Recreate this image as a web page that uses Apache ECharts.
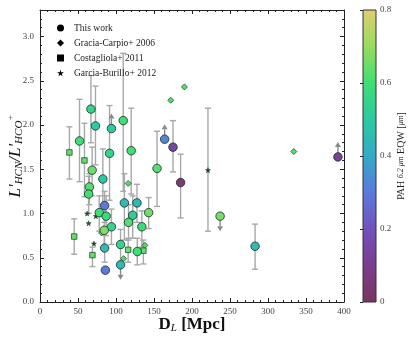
<!DOCTYPE html>
<html><head><meta charset="utf-8">
<script src="https://cdn.jsdelivr.net/npm/echarts@6/dist/echarts.min.js"></script>
<style>html,body{margin:0;padding:0;background:#fff}#c{width:415px;height:343px}</style>
</head><body><div id="c"></div>
<script>
// ---------------- DATA ----------------
// This work (circles)
const twD   = [67, 73, 52, 94, 91.5, 109.5, 120, 68.6, 82.7, 154, 164, 175, 185, 65, 64, 111, 127.6, 85, 78, 87, 122, 116.5, 143, 94, 134, 84.5, 106, 85, 128, 86, 106, 237, 283, 392];
const twR   = [2.18, 1.99, 1.82, 1.96, 1.68, 2.05, 1.71, 1.49, 1.39, 1.51, 1.84, 1.75, 1.35, 1.30, 1.22, 1.12, 1.12, 1.09, 1.01, 0.97, 0.98, 0.90, 1.01, 0.85, 0.85, 0.81, 0.65, 0.61, 0.57, 0.36, 0.42, 0.97, 0.63, 1.64];
const twPAH = [0.55, 0.50, 0.60, 0.50, 0.55, 0.60, 0.60, 0.65, 0.50, 0.62, 0.33, 0.15, 0.05, 0.63, 0.60, 0.45, 0.45, 0.30, 0.60, 0.58, 0.52, 0.62, 0.66, 0.55, 0.58, 0.68, 0.55, 0.45, 0.60, 0.30, 0.45, 0.66, 0.45, 0.12];
const twLo  = [1.80, 1.55, 1.36, null, 1.15, 1.25, 1.22, 1.20, 1.05, 1.08, null, 1.47, 0.95, 1.10, 1.00, 0.70, 0.90, 0.90, 0.80, 0.75, 0.72, 0.70, 0.83, 0.65, 0.62, 0.60, 0.45, 0.45, 0.42, null, null, null, 0.37, null];
const twHi  = [2.56, 2.44, 2.29, null, 2.22, 2.81, 2.19, 1.75, 1.73, 1.93, null, 2.05, 1.67, 1.45, 1.42, 1.45, 1.33, 1.25, 1.20, 1.20, 1.20, 1.10, 1.18, 1.05, 1.03, 1.00, 0.82, 0.78, 0.72, null, null, null, 0.88, null];
const twLim = [0, 0, 0, 1, 0, 0, 0, 0, 0, 0, 1, 0, 0, 0, 0, 0, 0, 0, 0, 0, 0, 0, 0, 0, 0, 0, 0, 0, 0, 0, -1, -1, 0, 1];
// Gracia-Carpio+ 2006 (diamonds)
const gcD   = [172, 190, 334, 116, 81, 110, 138];
const gcR   = [2.28, 2.43, 1.70, 1.34, 0.78, 0.49, 0.64];
const gcPAH = [0.62, 0.62, 0.62, 0.62, 0.62, 0.62, 0.62];
// Costagliola+ 2011 (squares)
const coD   = [38.7, 58.5, 45, 69, 116, 136];
const coR   = [1.69, 1.60, 0.74, 0.53, 0.59, 0.58];
const coPAH = [0.64, 0.64, 0.64, 0.64, 0.64, 0.64];
const coLo  = [1.39, 1.19, 0.54, 0.40, 0.45, 0.43];
const coHi  = [1.98, 2.02, 0.94, 0.62, 0.72, 0.70];
// Garcia-Burillo+ 2012 (stars)
const gbD   = [62, 64, 71, 73.5, 221];
const gbR   = [1.00, 0.89, 0.66, 0.97, 1.49];
const gbLo  = [null, null, null, null, 0.80];
const gbHi  = [null, null, null, null, 2.19];
// axes
const xMin = 0, xMax = 400, xStep = 50;
const yMin = 0, yMax = 3.3, yStep = 0.5;
const cMin = 0, cMax = 0.8, cStep = 0.2;
const legendNames = ['This work', 'Gracia-Carpio+ 2006', 'Costagliola+ 2011', 'Garcia-Burillo+ 2012'];

// ---------------- STYLE ----------------
const cmap = ['#7a3560', '#7b3d8c', '#7350bc', '#5a7ade', '#34aac6', '#2ccaa0', '#40de74', '#98dc5e', '#e2cd72'];
const starPath = 'path://M50,0 L61,35 L98,35 L68,57 L79,91 L50,70 L21,91 L32,57 L2,35 L39,35 Z';
const serif = 'Liberation Serif';
const errColor = '#a8a8a8';

const errData = [];
twD.forEach((d, i) => { if (twLo[i] != null) errData.push([d, twLo[i], twHi[i]]); });
coD.forEach((d, i) => { if (coLo[i] != null) errData.push([d, coLo[i], coHi[i]]); });
gbD.forEach((d, i) => { if (gbLo[i] != null) errData.push([d, gbLo[i], gbHi[i]]); });
const arrowData = [];
twD.forEach((d, i) => { if (twLim[i] !== 0) arrowData.push([d, twR[i], twLim[i]]); });

function errRender(params, api) {
  const x = api.value(0), lo = api.value(1), hi = api.value(2);
  const a = api.coord([x, hi]), b = api.coord([x, lo]);
  const cw = 3, st = { stroke: errColor, lineWidth: 1.4 };
  return { type: 'group', children: [
    { type: 'line', shape: { x1: a[0], y1: a[1], x2: b[0], y2: b[1] }, style: st },
    { type: 'line', shape: { x1: a[0] - cw, y1: a[1], x2: a[0] + cw, y2: a[1] }, style: st },
    { type: 'line', shape: { x1: b[0] - cw, y1: b[1], x2: b[0] + cw, y2: b[1] }, style: st }
  ]};
}
function arrowRender(params, api) {
  const x = api.value(0), y = api.value(1), dir = api.value(2);
  const p = api.coord([x, y]);
  const y0 = p[1] - dir * 4, tip = p[1] - dir * 15, base = tip + dir * 5;
  return { type: 'group', children: [
    { type: 'line', shape: { x1: p[0], y1: y0, x2: p[0], y2: base }, style: { stroke: '#8a8a8a', lineWidth: 1.4 } },
    { type: 'polygon', shape: { points: [[p[0] - 3, base], [p[0] + 3, base], [p[0], tip]] }, style: { fill: '#8a8a8a' } }
  ]};
}
function cbarRender(params, api) {
  const p0 = api.coord([0, cMin]), p1 = api.coord([1, cMax]);
  const stops = cmap.map((c, i) => ({ offset: i / (cmap.length - 1), color: c }));
  return { type: 'rect', shape: { x: p0[0], y: p1[1], width: p1[0] - p0[0], height: p0[1] - p1[1] },
    style: { fill: new echarts.graphic.LinearGradient(0, 1, 0, 0, stops), stroke: '#333', lineWidth: 1 } };
}

const axisBase = {
  axisLine: { show: true, onZero: false, lineStyle: { color: '#222', width: 1 } },
  axisTick: { show: true, inside: true, length: 4, lineStyle: { color: '#222' } },
  minorTick: { show: true, splitNumber: 5, length: 2, lineStyle: { color: '#222' } },
  splitLine: { show: false }
};
const labelStyle = { fontFamily: serif, fontSize: 9, color: '#444' };

const option = {
  animation: false,
  backgroundColor: '#fff',
  grid: [
    { left: 40, right: 71, top: 10, bottom: 41, containLabel: false, outerBoundsMode: 'none' },
    { left: 363, width: 13, top: 10, bottom: 41, containLabel: false, outerBoundsMode: 'none' }
  ],
  xAxis: [
    Object.assign({}, axisBase, { gridIndex: 0, type: 'value', min: xMin, max: xMax, interval: xStep, position: 'bottom',
      axisLabel: Object.assign({ margin: 5 }, labelStyle),
      name: '{b|D}{s|L}{b| [Mpc]}', nameLocation: 'middle', nameGap: 13, nameMoveOverlap: false,
      nameTextStyle: { rich: {
        b: { fontFamily: serif, fontWeight: 'bold', fontSize: 17, color: '#111' },
        s: { fontFamily: serif, fontStyle: 'italic', fontSize: 11, color: '#111', padding: [8, 0, 0, 0] } } } }),
    Object.assign({}, axisBase, { gridIndex: 0, type: 'value', min: xMin, max: xMax, interval: xStep, position: 'top',
      axisLabel: { show: false } }),
    { gridIndex: 1, type: 'value', min: 0, max: 1, show: false }
  ],
  yAxis: [
    Object.assign({}, axisBase, { gridIndex: 0, type: 'value', min: yMin, max: yMax, interval: yStep, position: 'left',
      axisLabel: Object.assign({ margin: 6, showMaxLabel: false, formatter: v => v.toFixed(1) }, labelStyle),
      name: "{i|L'}{s|HCN}{i|/L'}{s|HCO}{p|+}", nameLocation: 'middle', nameGap: 15, nameRotate: 90, nameMoveOverlap: false,
      nameTextStyle: { rich: {
        i: { fontFamily: serif, fontStyle: 'italic', fontSize: 17, color: '#111' },
        s: { fontFamily: serif, fontStyle: 'italic', fontSize: 11, color: '#111', padding: [8, 0, 0, 0] },
        p: { fontFamily: serif, fontStyle: 'italic', fontSize: 9, color: '#111', padding: [0, 0, 10, 0] } } } }),
    Object.assign({}, axisBase, { gridIndex: 0, type: 'value', min: yMin, max: yMax, interval: yStep, position: 'right',
      axisLabel: { show: false } }),
    { gridIndex: 1, type: 'value', min: cMin, max: cMax, interval: cStep, position: 'right',
      axisLine: { show: false }, splitLine: { show: false },
      axisTick: { show: true, inside: true, length: 3, lineStyle: { color: '#222' } },
      axisLabel: Object.assign({ margin: 4, formatter: v => v === 0 ? '0' : v.toFixed(1) }, labelStyle),
      name: '{t|PAH }{m|6.2 μm}{t| EQW [}{m|μm}{t|]}', nameLocation: 'middle', nameGap: 20, nameRotate: 90,
      nameTextStyle: { rich: {
        t: { fontFamily: serif, fontSize: 10, color: '#222' },
        m: { fontFamily: serif, fontStyle: 'italic', fontSize: 8, color: '#222' } } } }
  ],
  visualMap: {
    show: false, type: 'continuous', min: cMin, max: cMax, dimension: 2, seriesIndex: [3, 4, 5],
    inRange: { color: cmap }
  },
  legend: {
    left: 52, top: 18, orient: 'vertical', itemWidth: 7, itemHeight: 7, itemGap: 5,
    textStyle: { fontFamily: serif, fontSize: 9.5, color: '#222', padding: [0, 0, 0, 5] },
    data: [
      { name: legendNames[0], icon: 'circle', itemStyle: { color: '#000', borderWidth: 0 } },
      { name: legendNames[1], icon: 'diamond', itemStyle: { color: '#000', borderWidth: 0 } },
      { name: legendNames[2], icon: 'rect', itemStyle: { color: '#000', borderWidth: 0 } },
      { name: legendNames[3], icon: starPath, itemStyle: { color: '#000', borderWidth: 0 } }
    ]
  },
  series: [
    { type: 'custom', xAxisIndex: 0, yAxisIndex: 0, renderItem: errRender, data: errData, z: 1, silent: true },
    { type: 'custom', xAxisIndex: 0, yAxisIndex: 0, renderItem: arrowRender, data: arrowData, z: 1, silent: true },
    { type: 'custom', xAxisIndex: 2, yAxisIndex: 2, renderItem: cbarRender, data: [[0, cMin, cMax]], silent: true },
    { name: legendNames[1], type: 'scatter', xAxisIndex: 0, yAxisIndex: 0, symbol: 'diamond', symbolSize: 6, z: 3,
      itemStyle: { borderColor: '#1a3a22', borderWidth: 0.7, opacity: 1 },
      data: gcD.map((d, i) => [d, gcR[i], gcPAH[i]]) },
    { name: legendNames[2], type: 'scatter', xAxisIndex: 0, yAxisIndex: 0, symbol: 'rect', symbolSize: 5.5, z: 3,
      itemStyle: { borderColor: '#1a3a22', borderWidth: 0.7, opacity: 1 },
      data: coD.map((d, i) => [d, coR[i], coPAH[i]]) },
    { name: legendNames[0], type: 'scatter', xAxisIndex: 0, yAxisIndex: 0, symbol: 'circle', symbolSize: 8.5, z: 4,
      itemStyle: { borderColor: '#1c2a2a', borderWidth: 0.8, opacity: 1 },
      data: twD.map((d, i) => [d, twR[i], twPAH[i]]) },
    { name: legendNames[3], type: 'scatter', xAxisIndex: 0, yAxisIndex: 0, symbol: starPath, symbolSize: 5, z: 3,
      itemStyle: { color: '#1e5a32', borderColor: '#0e2a18', borderWidth: 0.5, opacity: 1 },
      data: gbD.map((d, i) => [d, gbR[i]]) }
  ]
};
const chart = echarts.init(document.getElementById('c'), null, { renderer: 'canvas' });
chart.setOption(option);
</script>
</body></html>
